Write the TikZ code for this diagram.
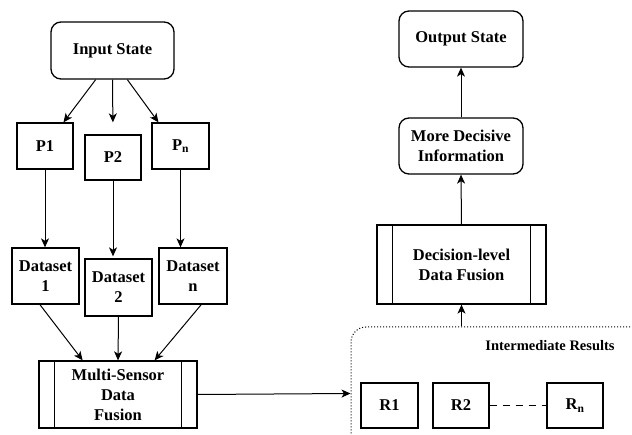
\documentclass[tikz,border=0pt]{standalone}
\usepackage{fontspec}
\setmainfont{Liberation Serif}
\usetikzlibrary{arrows.meta}

\begin{document}
\begin{tikzpicture}[x=1pt,y=-1pt,line width=1pt,>={Stealth[length=9pt,width=8pt,inset=2.5pt]},
    every node/.style={font=\bfseries\fontsize{16.5}{20}\selectfont, align=center},
    state/.style={draw, line width=1.3pt, rounded corners=10pt, inner sep=0pt},
    plain box/.style={draw, line width=1.3pt, inner sep=0pt},
    fusion/.style={draw, line width=1.3pt, inner sep=0pt, append after command={
        ([xshift=16pt]\tikzlastnode.north west) edge[-, line width=1.3pt] ([xshift=16pt]\tikzlastnode.south west)
        ([xshift=-16pt]\tikzlastnode.north east) edge[-, line width=1.3pt] ([xshift=-16pt]\tikzlastnode.south east)}}]
  \path[use as bounding box, clip] (0,0) rectangle (632,435);

  % left branch
  \node (input) at (112.5,50.5) [state, minimum width=123pt, minimum height=57pt] {Input State};
  \node (P1) at (45,146)    [plain box, minimum width=56pt, minimum height=46pt] {P1};
  \node (P2) at (113,157.5) [plain box, minimum width=56pt, minimum height=45pt] {P2};
  \node (Pn) at (180.5,146) [plain box, minimum width=57pt, minimum height=46pt] {P\textsubscript{n}};
  \node (D1) at (45.5,276)  [plain box, minimum width=67pt, minimum height=56pt] {Dataset\\1};
  \node (D2) at (118.5,287.5) [plain box, minimum width=67pt, minimum height=57pt] {Dataset\\2};
  \node (Dn) at (193,276)   [plain box, minimum width=68pt, minimum height=56pt] {Dataset\\n};
  \node (msdf) at (118,394.5) [fusion, minimum width=158pt, minimum height=67pt] {Multi-Sensor\\Data\\Fusion};

  \draw[->] (input.240) -- (P1.52);
  \draw[->, shorten >=12pt] (input.south) -- (P2.north);
  \draw[->] (input.297) -- (Pn.133);
  \draw[->] (P1.south) -- (P1.south |- D1.north);
  \draw[->, shorten >=2pt] (P2.south) -- (P2.south |- D2.north);
  \draw[->] (Pn.south) -- (Pn.south |- Dn.north);
  \draw[->] (D1.259) -- (msdf.136);
  \draw[->] (D2.south) -- (msdf.north);
  \draw[->] (Dn.286) -- (msdf.43);

  % right branch
  \node (inter) at (505.5,393.5) [draw, dotted, rounded corners=15pt, minimum width=309pt, minimum height=133pt] {};
  \node (interlabel) at (550,346) [font=\bfseries\fontsize{14.5}{17}\selectfont] {Intermediate Results};
  \node (R1) at (389.5,405.5) [plain box, minimum width=57pt, minimum height=45pt] {R1};
  \node (R2) at (461,405.5)   [plain box, minimum width=56pt, minimum height=45pt] {R2};
  \node (Rn) at (575,405.5)   [plain box, minimum width=56pt, minimum height=45pt] {R\textsubscript{n}};
  \node (dldf) at (461.5,264.5) [fusion, minimum width=169pt, minimum height=79pt] {Decision-level\\Data Fusion};
  \node (mdi) at (461,146) [state, minimum width=124pt, minimum height=56pt] {More Decisive\\Information};
  \node (output) at (461,39) [state, minimum width=124pt, minimum height=56pt] {Output State};

  \draw[->] (msdf.east) -- (inter.west);
  \draw[line width=1.5pt, dash pattern=on 7pt off 6pt] (R2.east) -- (Rn.west);
  \draw[->] (dldf.south |- inter.north) -- (dldf.south);
  \draw[->] (dldf.north) -- (mdi.south);
  \draw[->] (mdi.north) -- (output.south);

\end{tikzpicture}
\end{document}
